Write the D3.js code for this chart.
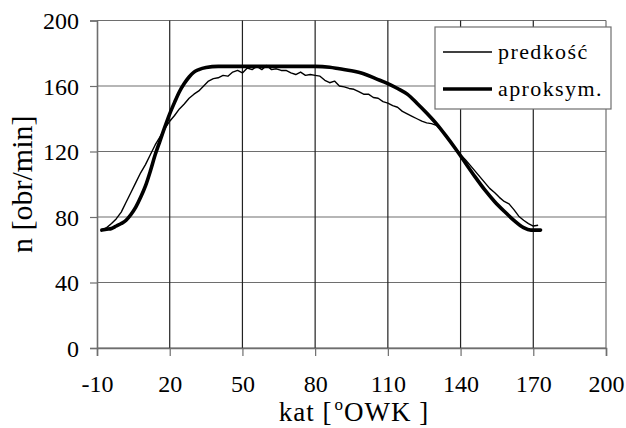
<!DOCTYPE html>
<html>
<head>
<meta charset="utf-8">
<script src="https://cdn.jsdelivr.net/npm/d3@7"></script>
<style>
  body { margin: 0; background: #fff; }
  svg text { font-family: "Liberation Serif", "Times New Roman", serif; fill: #000; }
</style>
</head>
<body>
<svg id="chart"></svg>
<script>
// measured speed (thin, noisy) and the fitted curve (thick)
const speedAngles = [-8, -6, -4, -2, 0, 2, 4, 6, 8, 10, 12, 14, 16, 18, 20, 22, 24, 26, 28, 30,
    32, 34, 36, 38, 40, 42, 44, 46, 48, 50, 52, 54, 56, 58, 60, 62, 64, 66, 68, 70,
    72, 74, 76, 78, 80, 82, 84, 86, 88, 90, 92, 94, 96, 98, 100, 102, 104, 106, 108, 110,
    112, 114, 116, 118, 120, 122, 124, 126, 128, 130, 132, 134, 136, 138, 140, 142, 144, 146, 148, 150,
    152, 154, 156, 158, 160, 162, 164, 166, 168, 170, 172];
const speedValues = [72, 73.5, 76, 79, 83, 89, 95, 101, 107, 112, 118, 124, 129, 134, 138.5, 142, 146, 149, 152.5, 155,
    157, 160, 163, 164.5, 165, 166.5, 166, 168.5, 169.5, 168, 171, 170, 172, 170, 172.5, 170, 170.5, 169.5, 169.5, 168,
    167, 168.5, 166.5, 167, 166.5, 166, 163.5, 162, 163, 160, 159.5, 158.5, 158, 156.5, 155, 155, 153, 152.5, 150.5, 149.5,
    148, 147, 144.5, 143, 141.5, 140, 138.5, 137.5, 137, 136, 133, 129.5, 126, 122, 118, 115, 111.5, 108, 104.5, 101,
    97.5, 95, 92, 89.5, 88, 84.5, 80.5, 78, 76, 74.5, 75];

const approxAngles = [-8, -6, -4, -2, 0, 2, 4, 6, 8, 10, 12, 14, 16, 18, 20, 22, 24, 26, 28, 30,
    32, 35, 40, 50, 60, 70, 80, 86, 90, 95, 100, 105, 110, 114, 118, 122, 126, 130, 134, 138,
    142, 146, 150, 154, 158, 162, 166, 169, 173];
const approxValues = [72, 72.5, 73, 74.5, 76, 78, 81.5, 86, 92, 99, 108, 118, 126.5, 135, 143, 150, 156.5, 161.5, 165.5, 168.5,
    170, 171.3, 172, 172, 172, 172, 172, 171.5, 170.5, 169.3, 167.5, 164.5, 161.5, 158.5, 155, 149.5, 143.5, 137, 129.5, 121.5,
    113, 104.5, 96.5, 89.5, 83.5, 78, 73.5, 72, 72];

const xTicks = [-10, 20, 50, 80, 110, 140, 170, 200];
const yTicks = [0, 40, 80, 120, 160, 200];
const seriesNames = ["predkość", "aproksym."];

const chartSize = { width: 626, height: 428 };
const margin = { left: 97, right: 20, top: 20.5, bottom: 80 };
const width = chartSize.width - margin.left - margin.right;
const height = chartSize.height - margin.top - margin.bottom;
const serif = '"Liberation Serif", "Times New Roman", serif';

const svg = d3.select('#chart')
    .attr('width', chartSize.width)
    .attr('height', chartSize.height)
    .attr('font-family', serif);

const g = svg.append('g')
    .attr('transform', `translate(${margin.left},${margin.top})`);

const x = d3.scaleLinear().domain([-10, 200]).range([0, width]);
const y = d3.scaleLinear().domain([0, 200]).range([height, 0]);

// grid
g.append('g').selectAll('line')
    .data(yTicks)
    .join('line')
    .attr('x1', 0).attr('x2', width)
    .attr('y1', d => y(d)).attr('y2', d => y(d))
    .attr('stroke', '#6e6e6e').attr('stroke-width', 1.2);

g.append('g').selectAll('line')
    .data(xTicks.slice(1))
    .join('line')
    .attr('x1', d => x(d)).attr('x2', d => x(d))
    .attr('y1', 0).attr('y2', height)
    .attr('stroke', d => d === 200 ? '#6e6e6e' : '#222').attr('stroke-width', 1.2);

// axes
const yAxis = d3.axisLeft(y).tickValues(yTicks).tickSize(7).tickPadding(11);
const xAxis = d3.axisBottom(x).tickValues(xTicks).tickSize(8).tickFormat(d => String(d));

const ya = g.append('g').call(yAxis);
const xa = g.append('g').attr('transform', `translate(0,${height})`).call(xAxis);

[ya, xa].forEach(a => {
    a.attr('font-family', serif).attr('font-size', 24);
    a.select('.domain').attr('stroke', '#6e6e6e').attr('stroke-width', 1.6);
    a.selectAll('.tick line').attr('stroke', '#6e6e6e').attr('stroke-width', 1.2);
    a.selectAll('.tick text').attr('fill', '#000');
});
ya.selectAll('.tick text').attr('dy', '0.34em');
xa.selectAll('.tick text').attr('y', 44).attr('dy', null);

// curves
const line = d3.line().x(d => x(d[0])).y(d => y(d[1]));

g.append('path')
    .datum(d3.zip(speedAngles, speedValues))
    .attr('fill', 'none')
    .attr('stroke', '#000')
    .attr('stroke-width', 1.4)
    .attr('stroke-linejoin', 'round')
    .attr('d', line);

g.append('path')
    .datum(d3.zip(approxAngles, approxValues))
    .attr('fill', 'none')
    .attr('stroke', '#000')
    .attr('stroke-width', 3.6)
    .attr('stroke-linejoin', 'round')
    .attr('stroke-linecap', 'round')
    .attr('d', line.curve(d3.curveMonotoneX));

// axis titles
svg.append('text')
    .attr('x', 354)
    .attr('y', 421)
    .attr('text-anchor', 'middle')
    .style('font-size', '27px')
    .style('letter-spacing', '1px')
    .call(t => {
        t.append('tspan').text('kat [');
        t.append('tspan').attr('dy', -11).attr('dx', 2).style('font-size', '17px').text('o');
        t.append('tspan').attr('dy', 11).text('OWK ]');
    });

svg.append('text')
    .attr('transform', `translate(32,${margin.top + height / 2}) rotate(-90)`)
    .attr('text-anchor', 'middle')
    .style('font-size', '30px')
    .text('n [obr/min]');

// legend
const legend = svg.append('g').attr('transform', 'translate(435,27)');
legend.append('rect')
    .attr('width', 176).attr('height', 82)
    .attr('fill', '#fff')
    .attr('stroke', '#6e6e6e').attr('stroke-width', 1.2);

const rows = legend.selectAll('.row')
    .data(seriesNames)
    .join('g')
    .attr('class', 'row')
    .attr('transform', (d, i) => `translate(0,${25 + i * 37})`);

rows.append('line')
    .attr('x1', 8).attr('x2', 57)
    .attr('stroke', '#000')
    .attr('stroke-width', (d, i) => i === 0 ? 1.4 : 3.6);

rows.append('text')
    .attr('x', 63).attr('y', 7)
    .style('font-size', '22px')
    .style('letter-spacing', '1.4px')
    .text(d => d);
</script>
</body>
</html>
